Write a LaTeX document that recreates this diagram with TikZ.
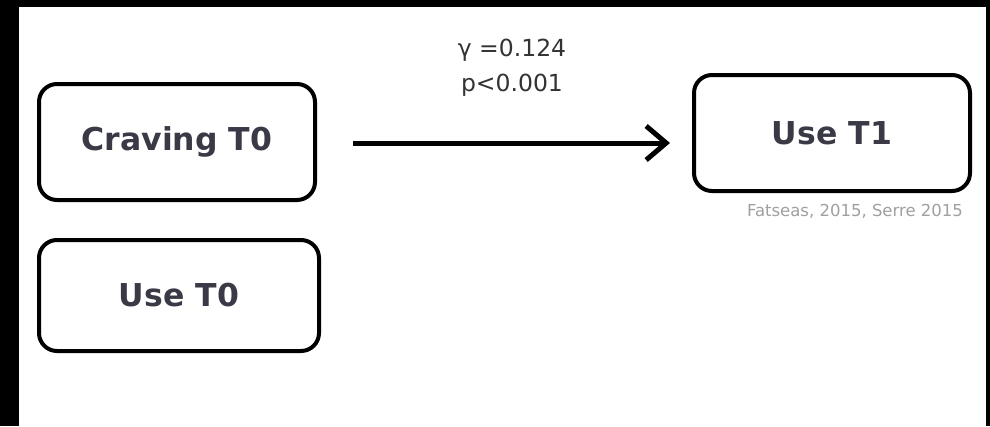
\documentclass[tikz,border=0pt]{standalone}
\usepackage{fontspec}
\setmainfont{DejaVu Sans}
\usetikzlibrary{arrows.meta}
\definecolor{boxtext}{HTML}{3A3A46}
\definecolor{labtext}{HTML}{333333}
\definecolor{citetext}{HTML}{A0A0A0}
\tikzset{
  roundbox/.style={draw=black, line width=4pt, rounded corners=18pt, fill=white,
    minimum width=276pt, minimum height=116pt, inner sep=0pt,
    font=\fontsize{31.5}{36}\selectfont\bfseries, text=boxtext},
  conn/.style={line width=5pt, -{Straight Barb[length=20pt,width=34pt,line width=5pt]}},
  lab/.style={font=\fontsize{23.5}{35}\selectfont, text=labtext, align=center, inner sep=0pt},
  cite/.style={font=\fontsize{16.5}{18}\selectfont, text=citetext, inner sep=0pt}
}
\begin{document}
\begin{tikzpicture}[x=1pt,y=-1pt]
\fill[black] (0,0) rectangle (990,426);
\fill[white] (19,7) rectangle (986,426);
\useasboundingbox (0,0) rectangle (990,426);
\node[roundbox] (c0) at (177,142) {Craving T0};
\node[roundbox, minimum width=280pt, minimum height=111pt] (u0) at (179,295.5) {Use T0};
\node[roundbox] (u1) at (832,133) {Use T1};
\coordinate (as) at (353,143);
\coordinate (ae) at (670,143);
\draw[conn] (as) -- (ae);
\node[lab] (l) at (512,68) {γ =0.124\\p<0.001};
\node[cite] (ct) at (855,211) {Fatseas, 2015, Serre 2015};
\end{tikzpicture}
\end{document}
